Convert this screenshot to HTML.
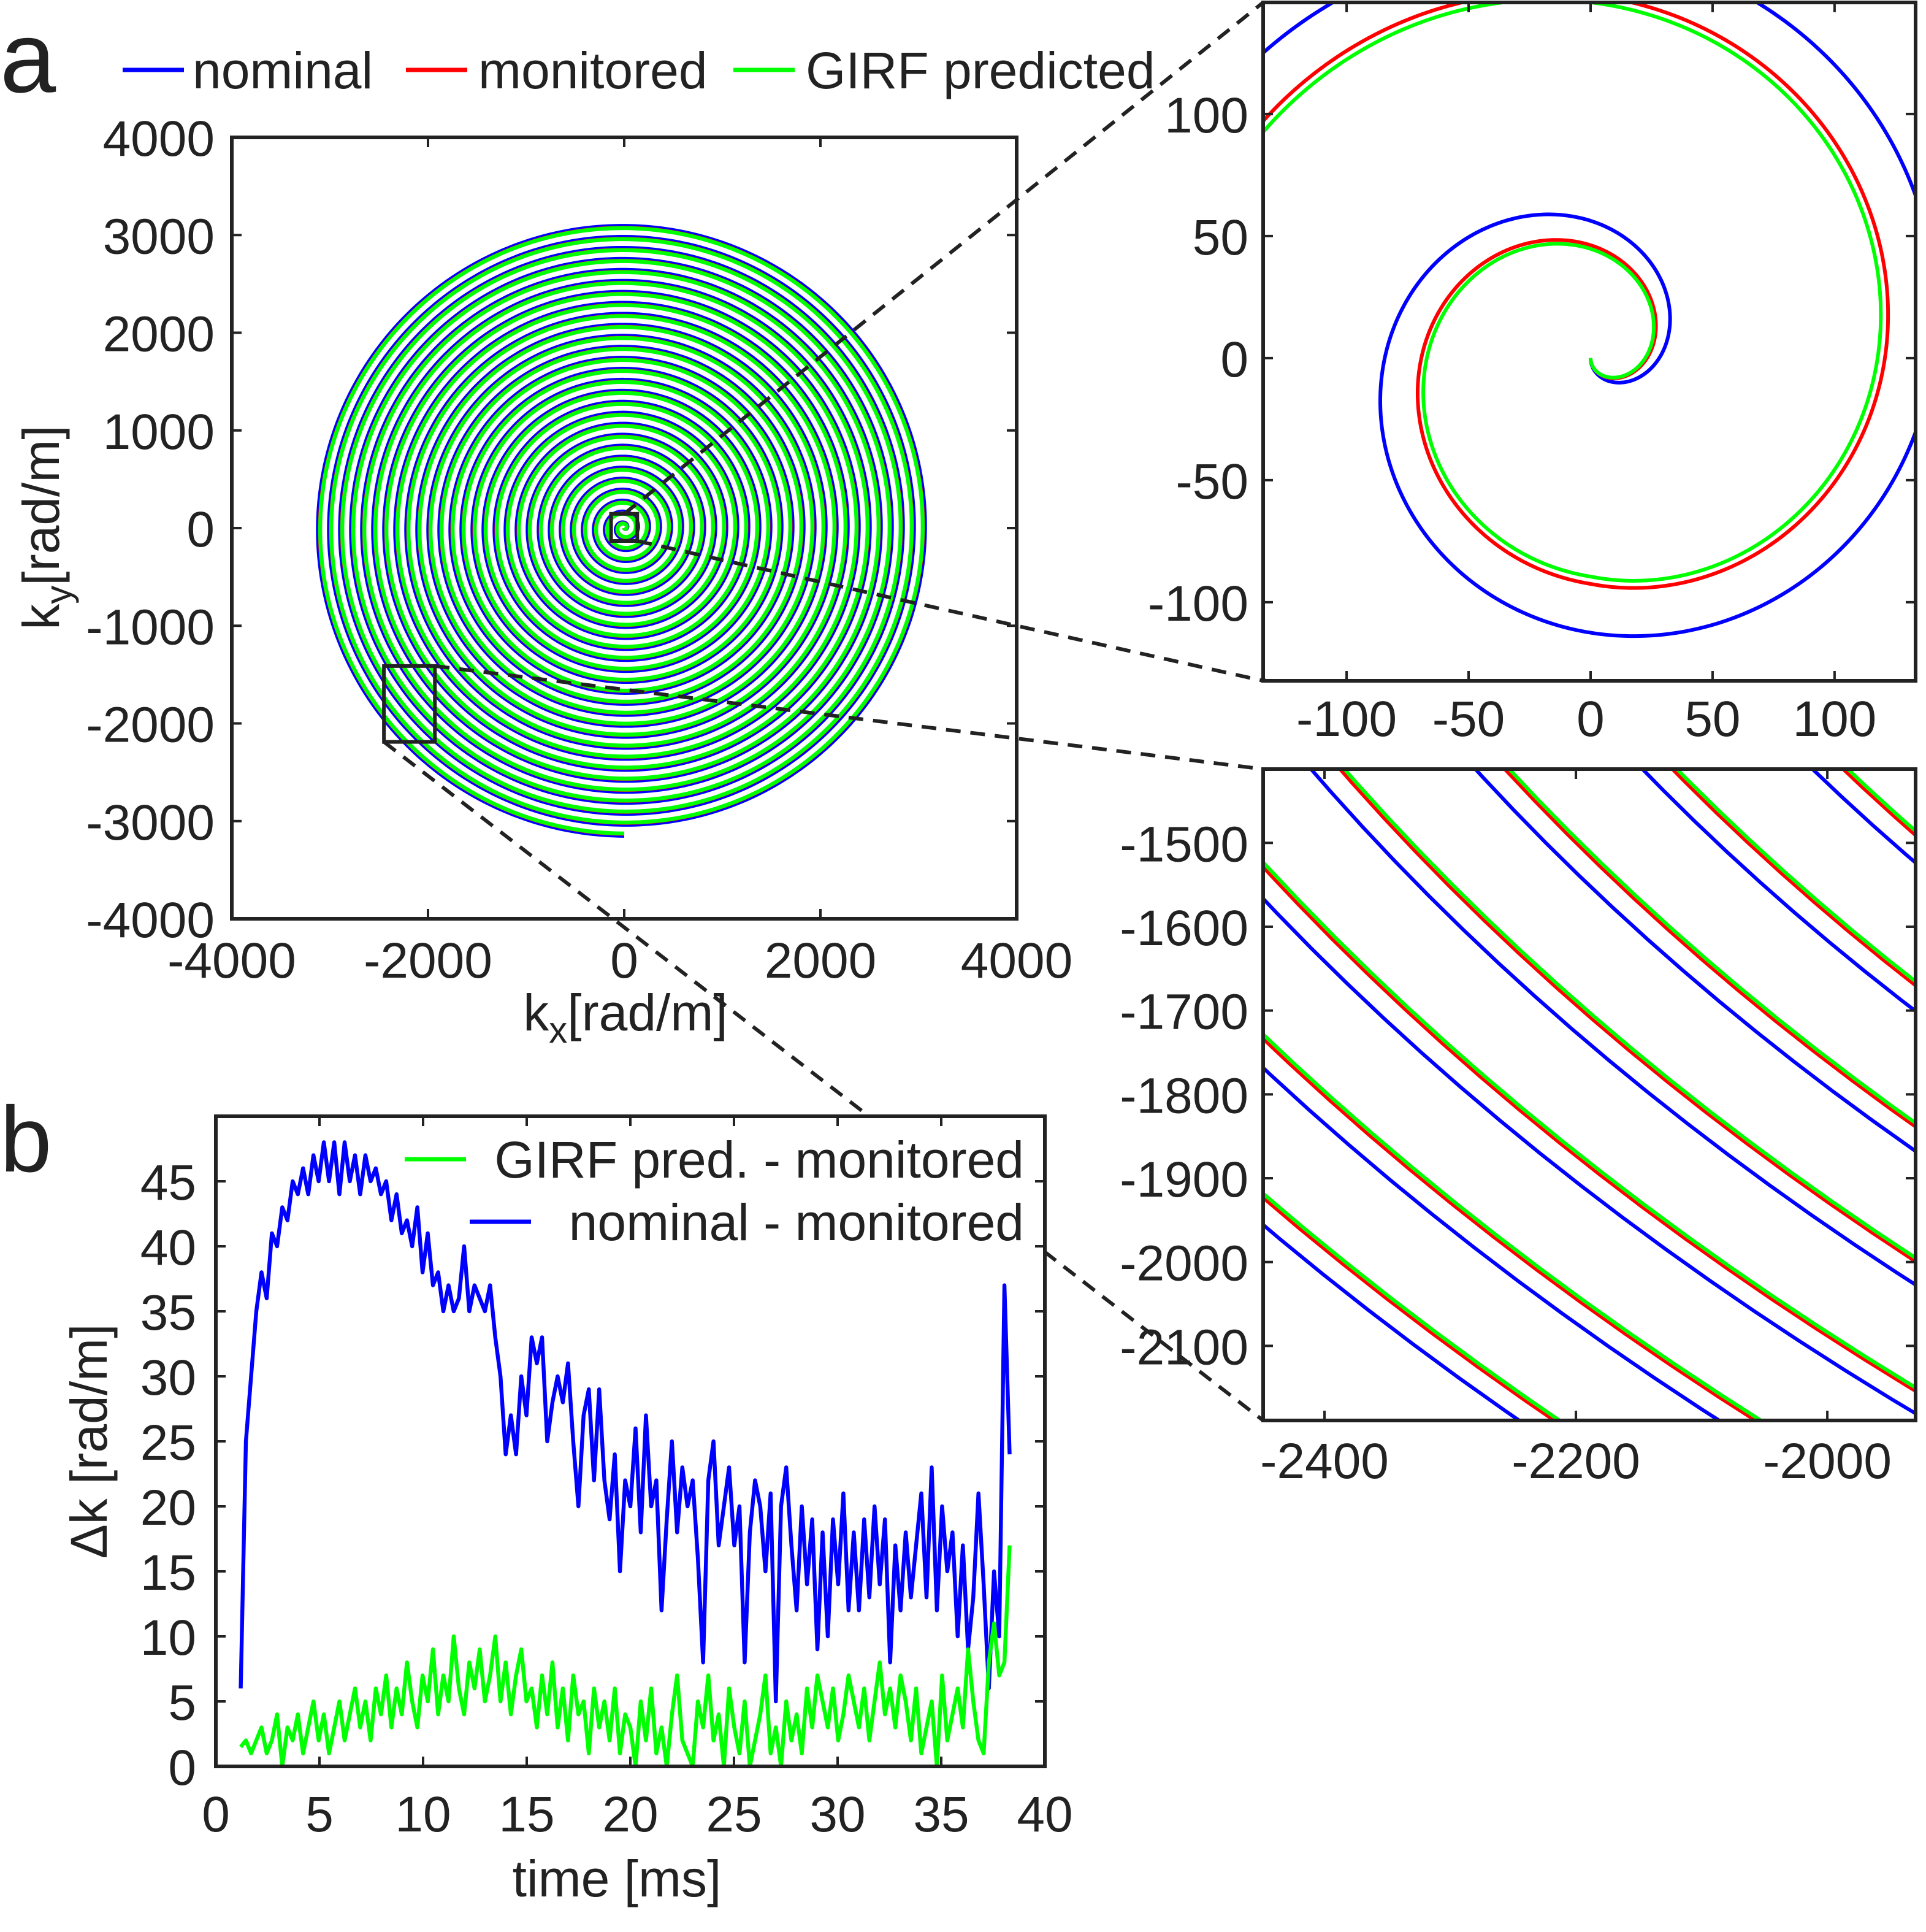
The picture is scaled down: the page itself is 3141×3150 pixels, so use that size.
<!DOCTYPE html>
<html><head><meta charset="utf-8"><style>
html,body{margin:0;padding:0;background:#fff;width:3141px;height:3150px;overflow:hidden;}
svg{display:block;font-family:"Liberation Sans",Arial,sans-serif;}
</style></head><body>
<svg id="fig" width="3141" height="3150" viewBox="0 0 1570.5 1575" xmlns="http://www.w3.org/2000/svg">
<defs>
<clipPath id="cMain"><rect x="189" y="112" width="640" height="637"/></clipPath>
<clipPath id="cZ1"><rect x="1030" y="2" width="532" height="553"/></clipPath>
<clipPath id="cZ2"><rect x="1030" y="627" width="532" height="531"/></clipPath>
<clipPath id="cB"><rect x="176" y="910" width="676" height="530"/></clipPath>
</defs>
<text x="0" y="75" font-size="82" fill="#222">a</text>
<text x="0" y="955" font-size="76" fill="#222">b</text>
<g id="legendA">
<line x1="100" y1="57" x2="150" y2="57" stroke="#0000ff" stroke-width="3.5"/>
<text x="157" y="72" font-size="42" fill="#222">nominal</text>
<line x1="331" y1="57" x2="381" y2="57" stroke="#ff0000" stroke-width="3.5"/>
<text x="390" y="72" font-size="42" fill="#222">monitored</text>
<line x1="598" y1="57" x2="648" y2="57" stroke="#00ff00" stroke-width="3.5"/>
<text x="657" y="72" font-size="42" fill="#222">GIRF predicted</text>
</g>
<g id="layer"></g>
</svg>
<script>
// ---- panel a data (spiral trajectory parameters) ----
const seriesNames = ['nominal','monitored','girf-predicted'];
const seriesColors = ['#0000ff','#ff0000','#00ff00'];
const spiralPitch = [112.5, 112.5, 112.5];      // rad/m per turn
const radialOffset = [0, -20, -23];            // rad/m offset after first turn
const spiralTurns = [28, 28, 28];
const mainXTicks = [-4000,-2000,0,2000,4000];
const mainYTicks = [-4000,-3000,-2000,-1000,0,1000,2000,3000,4000];
const z1Ticks = [-100,-50,0,50,100];
const z2XTicks = [-2400,-2200,-2000];
const z2YTicks = [-1500,-1600,-1700,-1800,-1900,-2000,-2100];
// ---- panel b data ----
const timeRange = [1.2, 38.3];
const nominalMinusMonitored = [6,25,30,35,38,36,41,40,43,42,45,44,46,44,47,45,48,45,48,44,48,45,47,44,47,45,46,44,45,42,44,41,42,40,43,38,41,37,38,35,37,35,36,40,35,37,36,35,37,33,30,24,27,24,30,27,33,31,33,25,28,30,28,31,25,20,27,29,22,29,22,19,24,15,22,20,26,18,27,20,22,12,19,25,18,23,20,22,16,8,22,25,17,20,23,17,20,8,18,22,20,15,21,5,20,23,17,12,20,14,19,9,18,10,19,14,21,12,18,12,19,13,20,14,19,8,17,12,18,13,17,21,13,23,12,20,15,18,10,17,9,13,21,14,6,15,10,37,24];
const girfMinusMonitored = [1.5,2,1,2,3,1,2,4,0,3,2,4,1,3,5,2,4,1,3,5,2,4,6,3,5,2,6,4,7,3,6,4,8,5,3,7,5,9,4,7,5,10,6,4,8,6,9,5,7,10,5,8,4,7,9,5,6,3,7,4,8,3,6,2,7,4,5,1,6,3,5,2,6,1,4,3,0,5,2,6,1,3,0,4,7,2,1,0,5,3,7,2,4,0,6,3,1,5,0,2,4,7,1,3,0,5,2,4,1,6,3,7,5,3,6,2,4,7,5,3,6,2,5,8,4,6,3,7,5,2,6,1,3,5,0,7,2,4,6,3,9,5,2,1,8,11,7,8,17];
const bXTicks = [0,5,10,15,20,25,30,35,40];
const bYTicks = [0,5,10,15,20,25,30,35,40,45];

const NS='http://www.w3.org/2000/svg';
const layer=document.getElementById('layer');
function mk(tag,attrs,parent){const e=document.createElementNS(NS,tag);for(const k in attrs)e.setAttribute(k,attrs[k]);(parent||layer).appendChild(e);return e;}
function lin(d0,d1,p0,p1){return v=>p0+(v-d0)/(d1-d0)*(p1-p0);}

function spiralPts(i){
  const pts=[];const n=spiralTurns[i]*360;
  for(let j=0;j<=n;j++){const t=j/360;
    const r=spiralPitch[i]*t+radialOffset[i]*Math.min(t,1);
    const a=-Math.PI/2+2*Math.PI*t;
    pts.push([r*Math.cos(a),r*Math.sin(a)]);}
  return pts;
}
const spirals=[0,1,2].map(spiralPts);

function drawSpirals(sx,sy,clip,w,prefix){
  const g=mk('g',{'clip-path':'url(#'+clip+')'});
  
  
  spirals.forEach((pts,i)=>{
    let d='';pts.forEach((p,k)=>{d+=(k?'L':'M')+sx(p[0]).toFixed(2)+' '+sy(p[1]).toFixed(2);});
    const p=mk('path',{d:d,fill:'none',stroke:seriesColors[i],'stroke-width':w,'stroke-linejoin':'round'},g);
    
    
  });
}

function drawAxes(box,sx,sy,xt,yt,prefix,xLabelY,yLabelX){
  const g=mk('g',{});
  
  
  const [L,T,R,B]=box;
  xt.forEach(v=>{const x=sx(v);
    mk('line',{x1:x,y1:B,x2:x,y2:B-8,stroke:'#222','stroke-width':2},g);
    mk('line',{x1:x,y1:T,x2:x,y2:T+8,stroke:'#222','stroke-width':2},g);
    const t=mk('text',{x:x,y:xLabelY,'font-size':41,'text-anchor':'middle',fill:'#222'},g);
    t.textContent=v;
    
    
  });
  yt.forEach(v=>{const y=sy(v);
    mk('line',{x1:L,y1:y,x2:L+8,y2:y,stroke:'#222','stroke-width':2},g);
    mk('line',{x1:R,y1:y,x2:R-8,y2:y,stroke:'#222','stroke-width':2},g);
    const t=mk('text',{x:yLabelX,y:y+15,'font-size':41,'text-anchor':'end',fill:'#222'},g);
    t.textContent=v;
    
    
  });
  const r=mk('rect',{x:L,y:T,width:R-L,height:B-T,fill:'none',stroke:'#222','stroke-width':3},g);
  
  
}

// main panel a
const mX=lin(-4000,4000,189,829), mY=lin(-4000,4000,749,112);
drawSpirals(mX,mY,'cMain',3.2,'main');
drawAxes([189,112,829,749],mX,mY,mainXTicks,mainYTicks,'main',797,175);
const b1=mk('rect',{x:mX(-134),y:mY(146),width:mX(133)-mX(-134),height:mY(-132)-mY(146),fill:'none',stroke:'#222','stroke-width':3});


const b2=mk('rect',{x:mX(-2449),y:mY(-1412),width:mX(-1930)-mX(-2449),height:mY(-2189)-mY(-1412),fill:'none',stroke:'#222','stroke-width':3});


[[mX(0),mY(146),1030,2],[mX(133),mY(-132),1030,555],[mX(-1930),mY(-1412),1030,627],[mX(-2449),mY(-2189),1030,1158]].forEach((c,i)=>{
  const l=mk('line',{x1:c[0],y1:c[1],x2:c[2],y2:c[3],stroke:'#222','stroke-width':3,'stroke-dasharray':'12 8'});
  
  
});
// zoom 1
mk('rect',{x:1030,y:2,width:532,height:553,fill:'#fff'});
const z1X=lin(-134.2,133.2,1030,1562), z1Y=lin(-132.2,145.7,555,2);
drawSpirals(z1X,z1Y,'cZ1',3,'zoom-center');
drawAxes([1030,2,1562,555],z1X,z1Y,z1Ticks,z1Ticks,'zoom-center',600,1018);
// zoom 2
mk('rect',{x:1030,y:627,width:532,height:531,fill:'#fff'});
const z2X=lin(-2448.8,-1929.8,1030,1562), z2Y=lin(-2189,-1412,1158,627);
drawSpirals(z2X,z2Y,'cZ2',3,'zoom-edge');
drawAxes([1030,627,1562,1158],z2X,z2Y,z2XTicks,z2YTicks,'zoom-edge',1205,1018);

function txt(s,attrs,name){const t=mk('text',Object.assign({'font-size':42,fill:'#222'},attrs));t.innerHTML=s;return t;}
txt('k<tspan font-size="30" dy="10">x</tspan><tspan dy="-10">[rad/m]</tspan>',{x:510,y:840,'text-anchor':'middle'},'x-axis-title');
txt('k<tspan font-size="30" dy="10">y</tspan><tspan dy="-10">[rad/m]</tspan>',{x:0,y:0,'text-anchor':'middle',transform:'translate(48,430) rotate(-90)'},'y-axis-title');

// panel b
mk('rect',{x:176,y:910,width:676,height:530,fill:'#fff'});
const bX=lin(0,40,176,852), bY=lin(0,50,1440,910);
function drawSeries(vals,color,name){
  let d='';const n=vals.length;
  vals.forEach((v,i)=>{const t=timeRange[0]+i*(timeRange[1]-timeRange[0])/(n-1);
    d+=(i?'L':'M')+bX(t).toFixed(2)+' '+bY(v).toFixed(2);});
  const p=mk('path',{d:d,fill:'none',stroke:color,'stroke-width':3.2,'stroke-linejoin':'round','clip-path':'url(#cB)'});
  
  
}
drawSeries(nominalMinusMonitored,'#0000ff','nominal-minus-monitored-line');
drawSeries(girfMinusMonitored,'#00ff00','girf-minus-monitored-line');
drawAxes([176,910,852,1440],bX,bY,bXTicks,bYTicks,'panel-b',1493,160);
const lg=mk('g',{});


mk('line',{x1:330,y1:945,x2:380,y2:945,stroke:'#00ff00','stroke-width':3.5},lg);
mk('line',{x1:383,y1:996,x2:433,y2:996,stroke:'#0000ff','stroke-width':3.5},lg);
txt('GIRF pred. - monitored',{x:835,y:960,'text-anchor':'end'},'legend-entry-girf-diff');
txt('nominal - monitored',{x:835,y:1011,'text-anchor':'end'},'legend-entry-nominal-diff');
txt('time [ms]',{x:503,y:1546,'text-anchor':'middle'},'b-x-axis-title');
txt('Δk [rad/m]',{x:0,y:0,'text-anchor':'middle',transform:'translate(87,1175) rotate(-90)'},'b-y-axis-title');
</script>
</body></html>
